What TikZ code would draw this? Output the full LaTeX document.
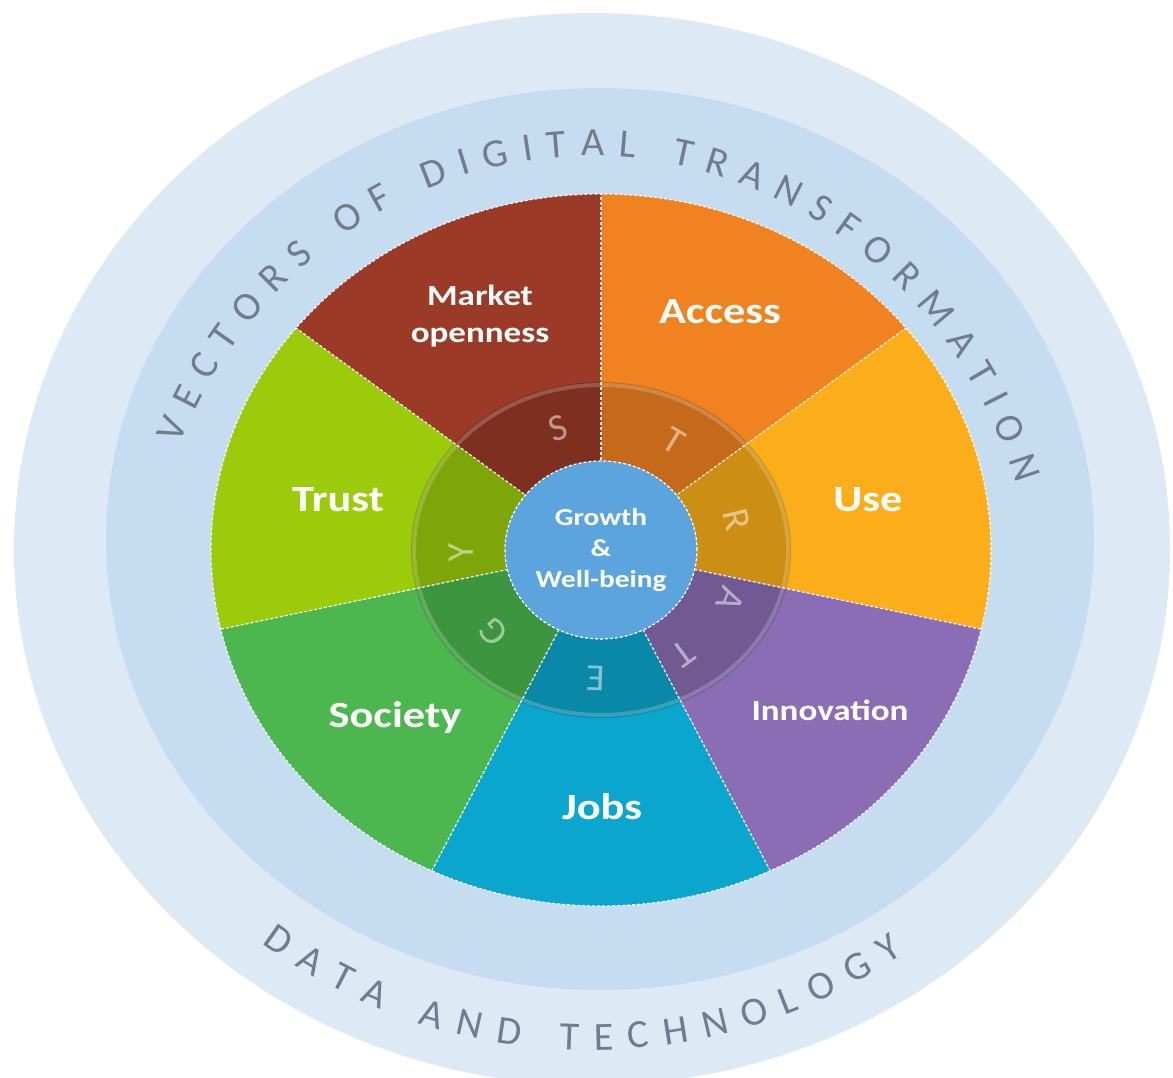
\documentclass[tikz,border=0pt]{standalone}
\usepackage{fontspec}
\setmainfont{Carlito}
\newfontfamily\labelfont{Carlito}[FakeStretch=1.2]
\newfontfamily\arcfont{Carlito}
\usetikzlibrary{calc,shapes.geometric,decorations.text}

\definecolor{outerring}{HTML}{DDE9F5}
\definecolor{midring}{HTML}{C6DCF0}
\definecolor{marketred}{HTML}{9C3A28}
\definecolor{accessorange}{HTML}{F08220}
\definecolor{useamber}{HTML}{FBAE19}
\definecolor{innovpurple}{HTML}{8A6DB4}
\definecolor{jobsblue}{HTML}{0BA6CE}
\definecolor{societygreen}{HTML}{4CB74E}
\definecolor{trustgreen}{HTML}{9BCB0B}
\definecolor{growthblue}{HTML}{5BA4DD}
\definecolor{arcgray}{HTML}{6F7E8E}

\tikzset{
  segline/.style={white, line width=0.6pt, dash pattern=on 1.5pt off 1pt, opacity=0.9},
  seglabel/.style={text=white, inner sep=0pt, align=center,
    font=\labelfont\bfseries\fontsize{18.5}{22}\selectfont},
  smalllabel/.style={seglabel, font=\labelfont\bfseries\fontsize{14.6}{18.5}\selectfont},
  ringletter/.style={text=white, text opacity=0.5, inner sep=0pt,
    font=\arcfont\fontsize{19}{19}\selectfont},
  growthdisc/.style={ellipse, fill=growthblue, draw=white, line width=0.6pt,
    dash pattern=on 1.5pt off 1pt, minimum width=96pt, minimum height=89pt,
    inner sep=0pt, align=center, text=white,
    font=\labelfont\bfseries\fontsize{12.2}{15.7}\selectfont},
  arctext/.style={decorate, decoration={text along path, text align={fit to path},
    text color=arcgray, text={|\arcfont\fontsize{20}{20}\selectfont|#1}}}
}

\begin{document}
\begin{tikzpicture}[x=0.5pt, y=0.5pt]
\useasboundingbox (0,0) rectangle (1173,1077);
\fill[white] (0,0) rectangle (1173,1077);

\coordinate (C) at (601,527);
\coordinate (top-c) at (591,447);
\coordinate (bot-c) at (590,532);

% background rings
\fill[outerring] (592,528) ellipse [x radius=578, y radius=536];
\fill[midring] (600,538) ellipse [x radius=494, y radius=451];

% the seven vectors
\foreach \col [count=\i from 0] in {accessorange,useamber,innovpurple,jobsblue,societygreen,trustgreen,marketred}
  \fill[\col] (C) -- ($(C)+({90-\i*51.4286}:390 and 356)$)
    arc[start angle={90-\i*51.4286}, end angle={90-(\i+1)*51.4286}, x radius=390, y radius=356] -- cycle;

% strategy ring
\fill[black, opacity=0.18, even odd rule] (C) ellipse [x radius=190, y radius=168]
  (C) ellipse [x radius=96, y radius=89];
\draw[white, opacity=0.2, line width=2pt] (C) ellipse [x radius=187, y radius=165];

\foreach \i in {0,...,6}
  \draw[segline] (C) -- ($(C)+({90-\i*51.4286}:390 and 356)$);
\draw[segline] (C) ellipse [x radius=390, y radius=356];

\foreach \ang/\ch [count=\k] in {108/S, 58.6/T, 13.6/R, -22.6/A, -54/T, -92/E, -140/G, 181/Y}
  \node[ringletter, rotate=\ang-90] (letter-\k) at ($(C)+(\ang:140 and 128)$) {\ch};

\node[growthdisc] (growth) at (C) {Growth\\\&\\Well-being};

% labels
\node[smalllabel] (market) at (480,761) {Market\\openness};
\node[seglabel] (access) at (720,765) {Access};
\node[seglabel] (use) at (868,577) {Use};
\node[smalllabel] (innovation) at (830,367) {Innovation};
\node[seglabel] (jobs) at (602,270) {Jobs};
\node[seglabel] (society) at (395,360) {Society};
\node[seglabel] (trust) at (338,577) {Trust};

% curved titles
\path[arctext={VECTORS OF DIGITAL TRANSFORMATION}]
  ($(top-c)+(157:447 and 474)$) arc[start angle=157, end angle=18, x radius=447, y radius=474];
\path[arctext={DATA AND TECHNOLOGY}]
  ($(bot-c)+(232:533 and 505)$) arc[start angle=232, end angle=306, x radius=533, y radius=505];
\end{tikzpicture}
\end{document}
